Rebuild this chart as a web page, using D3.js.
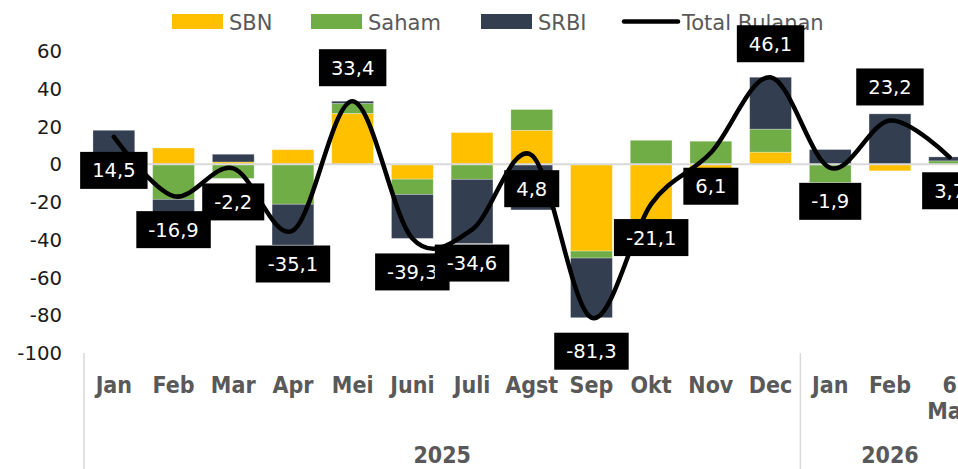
<!DOCTYPE html>
<html><head><meta charset="utf-8">
<script src="https://cdn.jsdelivr.net/npm/d3@7/dist/d3.min.js"></script>
<style>
html,body{margin:0;padding:0;background:#fff;overflow:hidden;}
svg{display:block;}
</style></head>
<body>
<svg id="chart" width="958" height="469"></svg>
<script>
const months = ["Jan","Feb","Mar","Apr","Mei","Juni","Juli","Agst","Sep","Okt","Nov","Dec","Jan","Feb","6 Mar"];
const yearLabels = ["2025","2026"];
const yearSpans = [12, 3];
const sbn   = [-1.0, 8.6, 1.2, 7.7, 26.9, -7.9, 16.8, 18.0, -46.0, -33.8, -6.1, 6.4, -0.3, -3.5, -0.2];
const saham = [-2.5, -18.6, -7.5, -21.2, 5.3, -8.1, -8.0, 11.0, -3.7, 12.7, 12.2, 12.2, -9.4, 0, 1.8];
const srbi  = [18.0, -6.9, 4.1, -21.6, 1.2, -23.3, -34.0, -24.2, -31.6, 0, 0, 27.5, 7.8, 26.7, 2.1];
const total = [14.5, -16.9, -2.2, -35.1, 33.4, -39.3, -34.6, 4.8, -81.3, -21.1, 6.1, 46.1, -1.9, 23.2, 3.7];
const yTicks = [60, 40, 20, 0, -20, -40, -60, -80, -100];
const seriesNames = ["SBN","Saham","SRBI"];
const lineName = "Total Bulanan";

const colors = {SBN:"#FFC000", Saham:"#70AD47", SRBI:"#333F50"};
const svg = d3.select("#chart");
const left = 84, step = 59.7;
const x = d3.scaleBand().domain(d3.range(months.length)).range([left, left + step*months.length]).paddingInner(0.3).paddingOuter(0.15);
const y = d3.scaleLinear().domain([-100, 60]).range([353, 51]);
const cx = i => x(i) + x.bandwidth()/2;

const rows = months.map((m,i)=>({i, SBN:sbn[i], Saham:saham[i], SRBI:srbi[i]}));
const stack = d3.stack().keys(seriesNames).offset(d3.stackOffsetDiverging)(rows);

// legend
const lg = svg.append("g").attr("font-family","DejaVu Sans, sans-serif").attr("font-size",21).attr("fill","#595959");
const legendX = [172, 311, 481];
seriesNames.forEach((k,j)=>{
  lg.append("rect").attr("x",legendX[j]).attr("y",14).attr("width",51).attr("height",15).attr("fill",colors[k]);
  lg.append("text").attr("x",legendX[j]+57).attr("y",29.5).text(k);
});
lg.append("line").attr("x1",624).attr("x2",678).attr("y1",21.5).attr("y2",21.5).attr("stroke","#000").attr("stroke-width",4.5).attr("stroke-linecap","round");
lg.append("text").attr("x",682).attr("y",29.5).text(lineName);

// y axis labels
const ya = svg.append("g").attr("font-family","DejaVu Sans, sans-serif").attr("font-size",19.7).attr("fill","#1a1a1a").attr("text-anchor","end");
yTicks.forEach(t=>{
  ya.append("text").attr("x",62).attr("y",y(t)).attr("dy","0.36em").text(t);
});

// bars
svg.append("g").selectAll("g").data(stack).join("g")
  .attr("fill", d=>colors[d.key])
  .selectAll("rect").data(d=>d).join("rect")
  .attr("x",(d,i)=>x(i)).attr("width",x.bandwidth())
  .attr("y",d=>y(Math.max(d[0],d[1])))
  .attr("height",d=>Math.abs(y(d[0])-y(d[1])))
  .attr("stroke","#fff").attr("stroke-opacity",0.35).attr("stroke-width",0.8);

// zero line
svg.append("line").attr("x1",left).attr("x2",958).attr("y1",y(0)).attr("y2",y(0)).attr("stroke","#d9d9d9").attr("stroke-width",2);

// category axis separators
const sepX = [left];
let acc = 0;
yearSpans.forEach(s=>{acc+=s; sepX.push(left + step*acc);});
sepX.forEach(sx=>{
  svg.append("line").attr("x1",sx).attr("x2",sx).attr("y1",353).attr("y2",469).attr("stroke","#d9d9d9").attr("stroke-width",1.5);
});

// category labels
const xa = svg.append("g").attr("font-family","Liberation Sans Narrow, DejaVu Sans Condensed, sans-serif").attr("font-stretch","condensed").attr("font-weight","bold").attr("font-size",23).attr("fill","#595959").attr("text-anchor","middle");
months.forEach((m,i)=>{
  const parts = m.split(" ");
  const t = xa.append("text").attr("x",cx(i)).attr("y",393);
  parts.forEach((p,k)=>t.append("tspan").attr("x",cx(i)).attr("dy",k?26:0).text(p));
});
let start = 0;
yearLabels.forEach((yl,j)=>{
  const x0 = left + step*start, x1 = left + step*(start+yearSpans[j]);
  xa.append("text").attr("x",(x0+x1)/2).attr("y",463).text(yl);
  start += yearSpans[j];
});

// line
const line = d3.line().x((d,i)=>cx(i)).y(d=>y(d)).curve(d3.curveCardinal.tension(0));
svg.append("path").datum(total).attr("d",line).attr("fill","none").attr("stroke","#000").attr("stroke-width",4.5).attr("stroke-linejoin","round").attr("stroke-linecap","round");

// data labels
const fmt = v => String(v).replace(".", ",");
const lab = svg.append("g").attr("font-family","DejaVu Sans, sans-serif").attr("font-size",19.5);
total.forEach((v,i)=>{
  const cy = y(v) + (v > 20 ? -33.5 : 33.5);
  const g = lab.append("g");
  const t = g.append("text").attr("x",cx(i)).attr("y",cy).attr("dy","0.36em").attr("text-anchor","middle").attr("fill","#fff").text(fmt(v));
  const w = t.node().getComputedTextLength() + 24;
  g.insert("rect","text").attr("x",cx(i)-w/2).attr("y",cy-18.5).attr("width",w).attr("height",37).attr("fill","#000");
});
</script>
</body></html>
